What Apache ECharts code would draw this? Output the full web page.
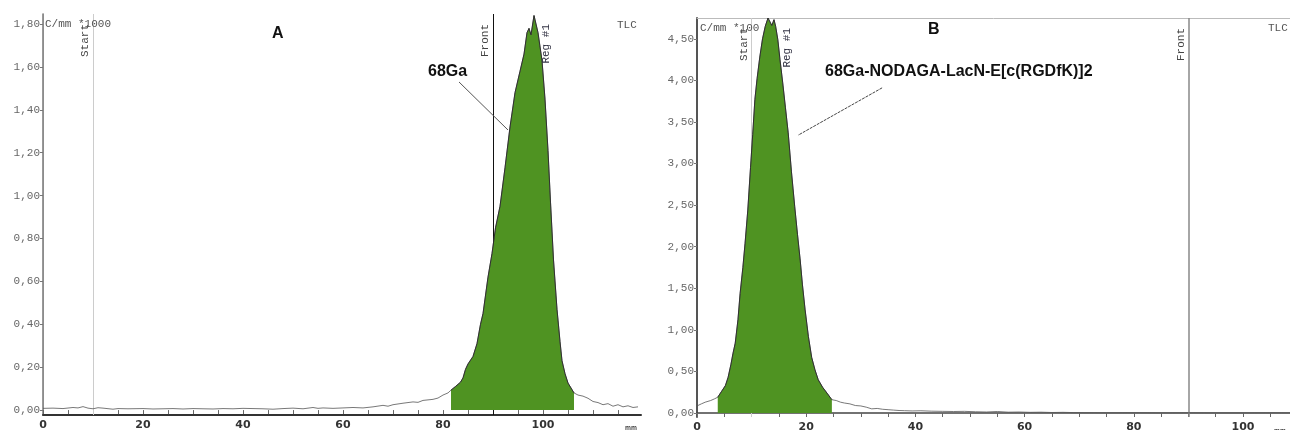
<!DOCTYPE html>
<html>
<head>
<meta charset="utf-8">
<script src="https://cdn.jsdelivr.net/npm/echarts@6/dist/echarts.min.js"></script>
<style>
  html, body { margin: 0; padding: 0; background: #fff; }
  #main { width: 1290px; height: 430px; }
</style>
</head>
<body>
<div id="main"></div>
<script>
// panel A: 68Ga (free), radio-TLC scan, counts/mm *1000 vs mm
var leftA_mm  = [0,2,4,6,7,8,9,10,11,12,14,15,17,20,22,24,26,28,30,32,34,36,38,40,42,44,46,48,50,52,54,55,56,58,60,62,64,66,68,69,70,72,74,75,76,78,79,80,81];
var leftA_val = [0.008,0.009,0.007,0.012,0.010,0.016,0.009,0.006,0.011,0.009,0.004,0.007,0.006,0.007,0.005,0.006,0.007,0.005,0.007,0.006,0.005,0.007,0.006,0.008,0.007,0.006,0.004,0.007,0.009,0.006,0.012,0.008,0.010,0.008,0.010,0.012,0.010,0.015,0.022,0.018,0.025,0.032,0.038,0.036,0.045,0.050,0.056,0.070,0.080];
var peakA_mm  = [81.6,82.5,83.5,84,84.5,85,86,86.8,87.5,88,89,89.8,90.5,91.4,92.4,93.4,94.4,95.4,96.2,96.8,97.2,97.6,98.2,99,99.8,100.4,101,101.5,102.1,102.8,103.4,103.8,104.4,105,106.2];
var peakA_val = [0.093,0.11,0.13,0.15,0.19,0.215,0.25,0.31,0.40,0.45,0.62,0.73,0.85,0.95,1.13,1.32,1.48,1.58,1.66,1.76,1.78,1.75,1.84,1.76,1.63,1.45,1.21,0.97,0.70,0.47,0.32,0.23,0.17,0.126,0.08];
var tailA_mm  = [107,108,109,110,111,112,113,114,115,116,117,118,119];
var tailA_val = [0.07,0.065,0.055,0.04,0.035,0.025,0.03,0.018,0.025,0.015,0.02,0.012,0.015];

// panel B: 68Ga-NODAGA-LacN-E[c(RGDfK)]2, counts/mm *100 vs mm
var leftB_mm  = [0,0.8,1.5,2.5,3.2];
var leftB_val = [0.085,0.11,0.13,0.15,0.17];
var peakB_mm  = [3.8,4.5,5.2,5.7,6.2,6.6,7,7.5,7.9,8.4,8.8,9.3,9.8,10.2,10.6,11,11.5,12,12.5,13,13.4,13.7,14.1,14.4,14.8,15.2,15.7,16.2,16.7,17.3,17.9,18.4,18.9,19.3,19.8,20.4,21,21.6,22.2,23,23.8,24.7];
var peakB_val = [0.19,0.26,0.33,0.43,0.58,0.72,0.84,1.12,1.44,1.75,2.04,2.44,2.95,3.35,3.77,4.02,4.28,4.5,4.65,4.75,4.70,4.66,4.73,4.65,4.49,4.25,3.97,3.67,3.37,2.9,2.48,2.15,1.84,1.55,1.24,0.92,0.67,0.52,0.40,0.31,0.24,0.16];
var tailB_mm  = [25.5,26.3,27,28,29,30,31,32,33,34,35,36,37,38,39.4,41,43,45,47,49,51,53,55,57,59,61,63,65,67,69,71,75,80,85,90,95,100,105,108.6];
var tailB_val = [0.15,0.13,0.12,0.11,0.09,0.085,0.07,0.05,0.055,0.045,0.04,0.035,0.03,0.028,0.025,0.027,0.022,0.02,0.018,0.02,0.015,0.012,0.018,0.01,0.012,0.008,0.01,0.006,0.008,0.005,0.004,0.003,0.004,0.002,0.003,0.002,0.002,0.003,0.002];

// axis ticks / marker positions (mm)
var yTicksA = [0,0.2,0.4,0.6,0.8,1.0,1.2,1.4,1.6,1.8];
var yTicksB = [0,0.5,1.0,1.5,2.0,2.5,3.0,3.5,4.0,4.5];
var xLabels = [0,20,40,60,80,100];
var xTicksA = [0,5,10,15,20,25,30,35,40,45,50,55,60,65,70,75,80,85,90,95,100,105,110,115];
var xTicksB = [0,5,10,15,20,25,30,35,40,45,50,55,60,65,70,75,80,85,90,95,100,105];
var startPos = 10, frontPos = 90;
var regA = 102.2, regB = 17.8;

function zip(xs, ys) {
    var out = [];
    for (var i = 0; i < xs.length; i++) out.push([xs[i], ys[i]]);
    return out;
}
function comma(v) {
    return v.toFixed(2).replace('.', ',');
}

var GREEN = '#4f9322';
var MONO = '"Liberation Mono", "DejaVu Sans Mono", monospace';
var SANS = '"Liberation Sans", Arial, sans-serif';
var NONE = 'rgba(0,0,0,0)';

function bottomAxis(grid, max, ticks, showLine) {
    return {
        type: 'value', gridIndex: grid, position: 'bottom', min: 0, max: max,
        axisLine: { show: showLine, lineStyle: { color: '#444', width: 1.5 } },
        axisTick: { show: true, length: 4, customValues: ticks, lineStyle: { color: '#666' } },
        axisLabel: { customValues: xLabels, margin: 5, color: '#333', fontFamily: '"DejaVu Sans", sans-serif', fontSize: 11, fontWeight: 'bold' },
        splitLine: { show: false },
        name: 'mm', nameLocation: 'end', nameGap: -16,
        nameTextStyle: { fontFamily: MONO, fontSize: 10, color: '#333', verticalAlign: 'top', padding: [14, 0, 0, 0] }
    };
}
function frameAxis(grid, pos, color, width) {
    return {
        type: 'value', gridIndex: grid, position: pos,
        axisLine: { show: true, lineStyle: { color: color, width: width } },
        axisTick: { show: false }, axisLabel: { show: false }, splitLine: { show: false }
    };
}
function leftAxis(grid, min, max, ticks, lineColor, lineWidth) {
    return {
        type: 'value', gridIndex: grid, position: 'left', min: min, max: max,
        axisLine: { show: true, lineStyle: { color: lineColor, width: lineWidth } },
        axisTick: { show: true, length: 3, customValues: ticks, lineStyle: { color: '#777' } },
        axisLabel: { customValues: ticks, margin: 3, color: '#666', fontFamily: MONO, fontSize: 11, formatter: comma },
        splitLine: { show: false }
    };
}
function vline(x, name, color, width, textColor) {
    return {
        xAxis: x,
        lineStyle: { color: color, width: width, type: 'solid' },
        label: { show: true, formatter: name, position: 'insideEndTop', distance: [10, 2], color: textColor || '#444', fontFamily: MONO, fontSize: 11 }
    };
}

var chart = echarts.init(document.getElementById('main'), null, { renderer: 'canvas' });
chart.setOption({
    animation: false,
    backgroundColor: '#fff',
    grid: [
        { left: 43, top: 14, width: 598, height: 401, outerBoundsMode: 'none', containLabel: false },
        { left: 697, top: 18, width: 593, height: 399, outerBoundsMode: 'none', containLabel: false }
    ],
    xAxis: [
        bottomAxis(0, 119.6, xTicksA, false),
        frameAxis(0, 'top', '#333', 2),
        bottomAxis(1, 108.6, xTicksB, true),
        frameAxis(1, 'top', '#bbb', 1)
    ],
    yAxis: [
        leftAxis(0, -0.023, 1.847, yTicksA, '#ccc', 1),
        frameAxis(0, 'right', '#777', 1.5),
        leftAxis(1, -0.048, 4.75, yTicksB, '#555', 2)
    ],
    series: [
        {
            name: 'traceA', type: 'line', xAxisIndex: 0, yAxisIndex: 0, showSymbol: false, symbol: 'none',
            data: zip(leftA_mm.concat(peakA_mm, tailA_mm), leftA_val.concat(peakA_val, tailA_val)),
            lineStyle: { color: '#555', width: 0.8 },
            markLine: {
                z: 1, silent: true, symbol: ['none', 'none'],
                data: [vline(startPos, 'Start', '#ccc', 1), vline(frontPos, 'Front', '#111', 1)]
            }
        },
        {
            name: 'peakA', type: 'line', xAxisIndex: 0, yAxisIndex: 0, showSymbol: false, symbol: 'none', z: 3,
            data: zip(peakA_mm, peakA_val),
            lineStyle: { color: '#222', width: 0.8 },
            areaStyle: { color: GREEN, opacity: 1 },
            markLine: {
                z: 6, silent: true, symbol: ['none', 'none'],
                data: [
                    vline(regA, 'Reg #1', NONE, 0, '#334'),
                    [{ coord: [83.2, 1.53], lineStyle: { color: '#555', width: 1, type: 'solid' }, label: { show: false } },
                     { coord: [93.0, 1.306] }]
                ]
            }
        },
        {
            name: 'traceB', type: 'line', xAxisIndex: 2, yAxisIndex: 2, showSymbol: false, symbol: 'none',
            data: zip(leftB_mm.concat(peakB_mm, tailB_mm), leftB_val.concat(peakB_val, tailB_val)),
            lineStyle: { color: '#555', width: 0.8 },
            markLine: {
                z: 1, silent: true, symbol: ['none', 'none'],
                data: [vline(startPos, 'Start', '#ccc', 1), vline(frontPos, 'Front', '#888', 1.5)]
            }
        },
        {
            name: 'peakB', type: 'line', xAxisIndex: 2, yAxisIndex: 2, showSymbol: false, symbol: 'none', z: 3,
            data: zip(peakB_mm, peakB_val),
            lineStyle: { color: '#222', width: 0.8 },
            areaStyle: { color: GREEN, opacity: 1 },
            markLine: {
                z: 6, silent: true, symbol: ['none', 'none'],
                data: [
                    vline(regB, 'Reg #1', NONE, 0, '#334'),
                    [{ coord: [33.9, 3.91], lineStyle: { color: '#444', width: 1, type: [3, 1] }, label: { show: false } },
                     { coord: [18.5, 3.34] }]
                ]
            }
        }
    ],
    graphic: [
        { type: 'text', left: 45, top: 19, z: 10, style: { text: 'C/mm *1000', font: '11px ' + MONO, fill: '#555' } },
        { type: 'text', left: 617, top: 20, z: 10, style: { text: 'TLC', font: '11px ' + MONO, fill: '#555' } },
        { type: 'text', left: 272, top: 26, z: 10, style: { text: 'A', font: 'bold 16px ' + SANS, fill: '#111' } },
        { type: 'text', left: 428, top: 64, z: 10, style: { text: '68Ga', font: 'bold 16px ' + SANS, fill: '#111' } },
        { type: 'text', left: 700, top: 23, z: 10, style: { text: 'C/mm *100', font: '11px ' + MONO, fill: '#555' } },
        { type: 'text', left: 1268, top: 23, z: 10, style: { text: 'TLC', font: '11px ' + MONO, fill: '#555' } },
        { type: 'text', left: 928, top: 22, z: 10, style: { text: 'B', font: 'bold 16px ' + SANS, fill: '#111' } },
        { type: 'text', left: 825, top: 64, z: 10, style: { text: '68Ga-NODAGA-LacN-E[c(RGDfK)]2', font: 'bold 16px ' + SANS, fill: '#111' } }
    ]
});
</script>
</body>
</html>
